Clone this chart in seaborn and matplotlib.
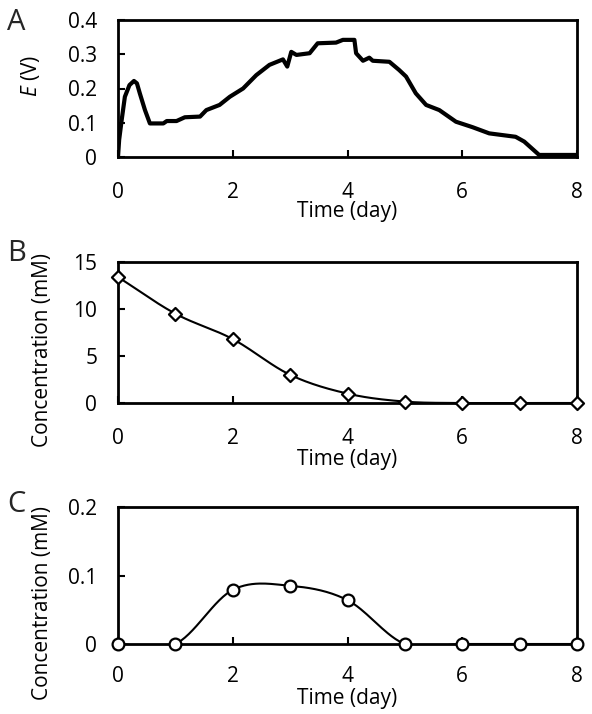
import numpy as np
import pandas as pd
import matplotlib
matplotlib.use("Agg")
import matplotlib.pyplot as plt
import seaborn as sns
from matplotlib.ticker import FixedLocator, FuncFormatter

# panel A: cell potential over time
time_a = [0, 0.02, 0.064, 0.12, 0.2, 0.278, 0.33, 0.38, 0.47, 0.556, 0.79, 0.85,
          1.02, 1.165, 1.43, 1.54, 1.77, 1.95, 2.18, 2.41, 2.64, 2.875, 2.95,
          3.02, 3.11, 3.34, 3.48, 3.80, 3.92, 4.12, 4.15, 4.27, 4.38, 4.44,
          4.73, 4.90, 5.02, 5.19, 5.37, 5.60, 5.89, 6.18, 6.47, 6.93, 7.08,
          7.34, 7.98]
e_a = [0, 0.05, 0.108, 0.176, 0.210, 0.222, 0.215, 0.186, 0.137, 0.098, 0.098,
       0.105, 0.105, 0.116, 0.118, 0.137, 0.152, 0.176, 0.200, 0.239, 0.269,
       0.285, 0.264, 0.307, 0.298, 0.303, 0.332, 0.334, 0.342, 0.342, 0.303,
       0.281, 0.290, 0.281, 0.278, 0.254, 0.235, 0.186, 0.152, 0.137, 0.103,
       0.087, 0.069, 0.059, 0.045, 0.006, 0.006]

# panels B and C: sampled concentrations
days = [0, 1, 2, 3, 4, 5, 6, 7, 8]
conc_b = [13.4, 9.5, 6.8, 3.0, 1.0, 0.15, 0, 0, 0]
conc_c = [0, 0, 0.079, 0.085, 0.064, 0, 0, 0, 0]

x_ticks = [0, 2, 4, 6, 8]


def smooth(x, y, n=30):
    """catmull-rom style smoothing, like excel's smoothed lines"""
    x = np.asarray(x, float)
    y = np.asarray(y, float)
    px = np.r_[2 * x[0] - x[1], x, 2 * x[-1] - x[-2]]
    py = np.r_[2 * y[0] - y[1], y, 2 * y[-1] - y[-2]]
    xs, ys = [], []
    t = np.linspace(0, 1, n, endpoint=False)
    for i in range(1, len(px) - 2):
        for p, out in ((px, xs), (py, ys)):
            p0, p1, p2, p3 = p[i - 1], p[i], p[i + 1], p[i + 2]
            out.extend(0.5 * (2 * p1 + (-p0 + p2) * t
                              + (2 * p0 - 5 * p1 + 4 * p2 - p3) * t ** 2
                              + (-p0 + 3 * p1 - 3 * p2 + p3) * t ** 3))
    xs.append(x[-1])
    ys.append(y[-1])
    return np.array(xs), np.array(ys)


def fmt(v, pos):
    return "0" if v == 0 else "{:g}".format(v)


sns.set_style("white")
plt.rcParams['font.family'] = ['Open Sans', 'DejaVu Sans']
plt.rcParams['mathtext.fontset'] = 'custom'
plt.rcParams['mathtext.it'] = 'Open Sans:italic'
plt.rcParams['mathtext.rm'] = 'Open Sans'
FS = 15

fig = plt.figure(figsize=(5.92, 7.14), dpi=100)
W = 459 / 592
ax_a = fig.add_axes([118 / 592, 1 - 157 / 714, W, 137 / 714])
ax_b = fig.add_axes([118 / 592, 1 - 403 / 714, W, 141 / 714])
ax_c = fig.add_axes([118 / 592, 1 - 644 / 714, W, 137 / 714])

sns.lineplot(x=time_a, y=e_a, ax=ax_a, color="black", lw=3.0,
             sort=False, estimator=None, solid_joinstyle="round")

xb, yb = smooth(days, conc_b)
sns.lineplot(x=xb, y=yb, ax=ax_b, color="black", lw=1.5, sort=False, estimator=None)
sns.scatterplot(x=days, y=conc_b, ax=ax_b, marker="D", s=44, color="white",
                edgecolor="black", linewidth=1.6, zorder=5, clip_on=False)

xc, yc = smooth(days, conc_c)
sns.lineplot(x=xc, y=yc, ax=ax_c, color="black", lw=1.5, sort=False, estimator=None)
sns.scatterplot(x=days, y=conc_c, ax=ax_c, marker="o", s=72, color="white",
                edgecolor="black", linewidth=1.6, zorder=5, clip_on=False)

settings = [
    (ax_a, 0.4, [0, 0.1, 0.2, 0.3, 0.4], "$\\it{E}$ (V)", (-0.166, 0.59), 18, -0.321, "A", 8),
    (ax_b, 15, [0, 5, 10, 15], "Concentration (mM)", (-0.142, 0.376), 18, -0.326, "B", 239),
    (ax_c, 0.2, [0, 0.1, 0.2], "Concentration (mM)", (-0.142, 0.30), 16, -0.318, "C", 490),
]
for ax, ymax, yt, ylab, ycoords, xpad, xly, letter, ly in settings:
    ax.set_xlim(0, 8)
    ax.set_ylim(0, ymax)
    ax.xaxis.set_major_locator(FixedLocator(x_ticks))
    ax.yaxis.set_major_locator(FixedLocator(yt))
    ax.yaxis.set_major_formatter(FuncFormatter(fmt))
    ax.tick_params(direction="in", length=5, width=1.5, color="black",
                   labelsize=FS, labelcolor="black")
    ax.tick_params(axis="x", pad=xpad, bottom=True)
    ax.tick_params(axis="y", pad=15, left=True)
    for s in ax.spines.values():
        s.set_visible(True)
        s.set_color("black")
        s.set_linewidth(2)
    ax.set_ylabel(ylab, fontsize=FS, color="black")
    ax.yaxis.set_label_coords(*ycoords)
    ax.set_xlabel("Time (day)", fontsize=FS, color="black")
    ax.xaxis.set_label_coords(0.5, xly)
    fig.text(7 / 592, 1 - ly / 714, letter, fontsize=21, va="top", ha="left")

fig.savefig("out.png", dpi=100)
